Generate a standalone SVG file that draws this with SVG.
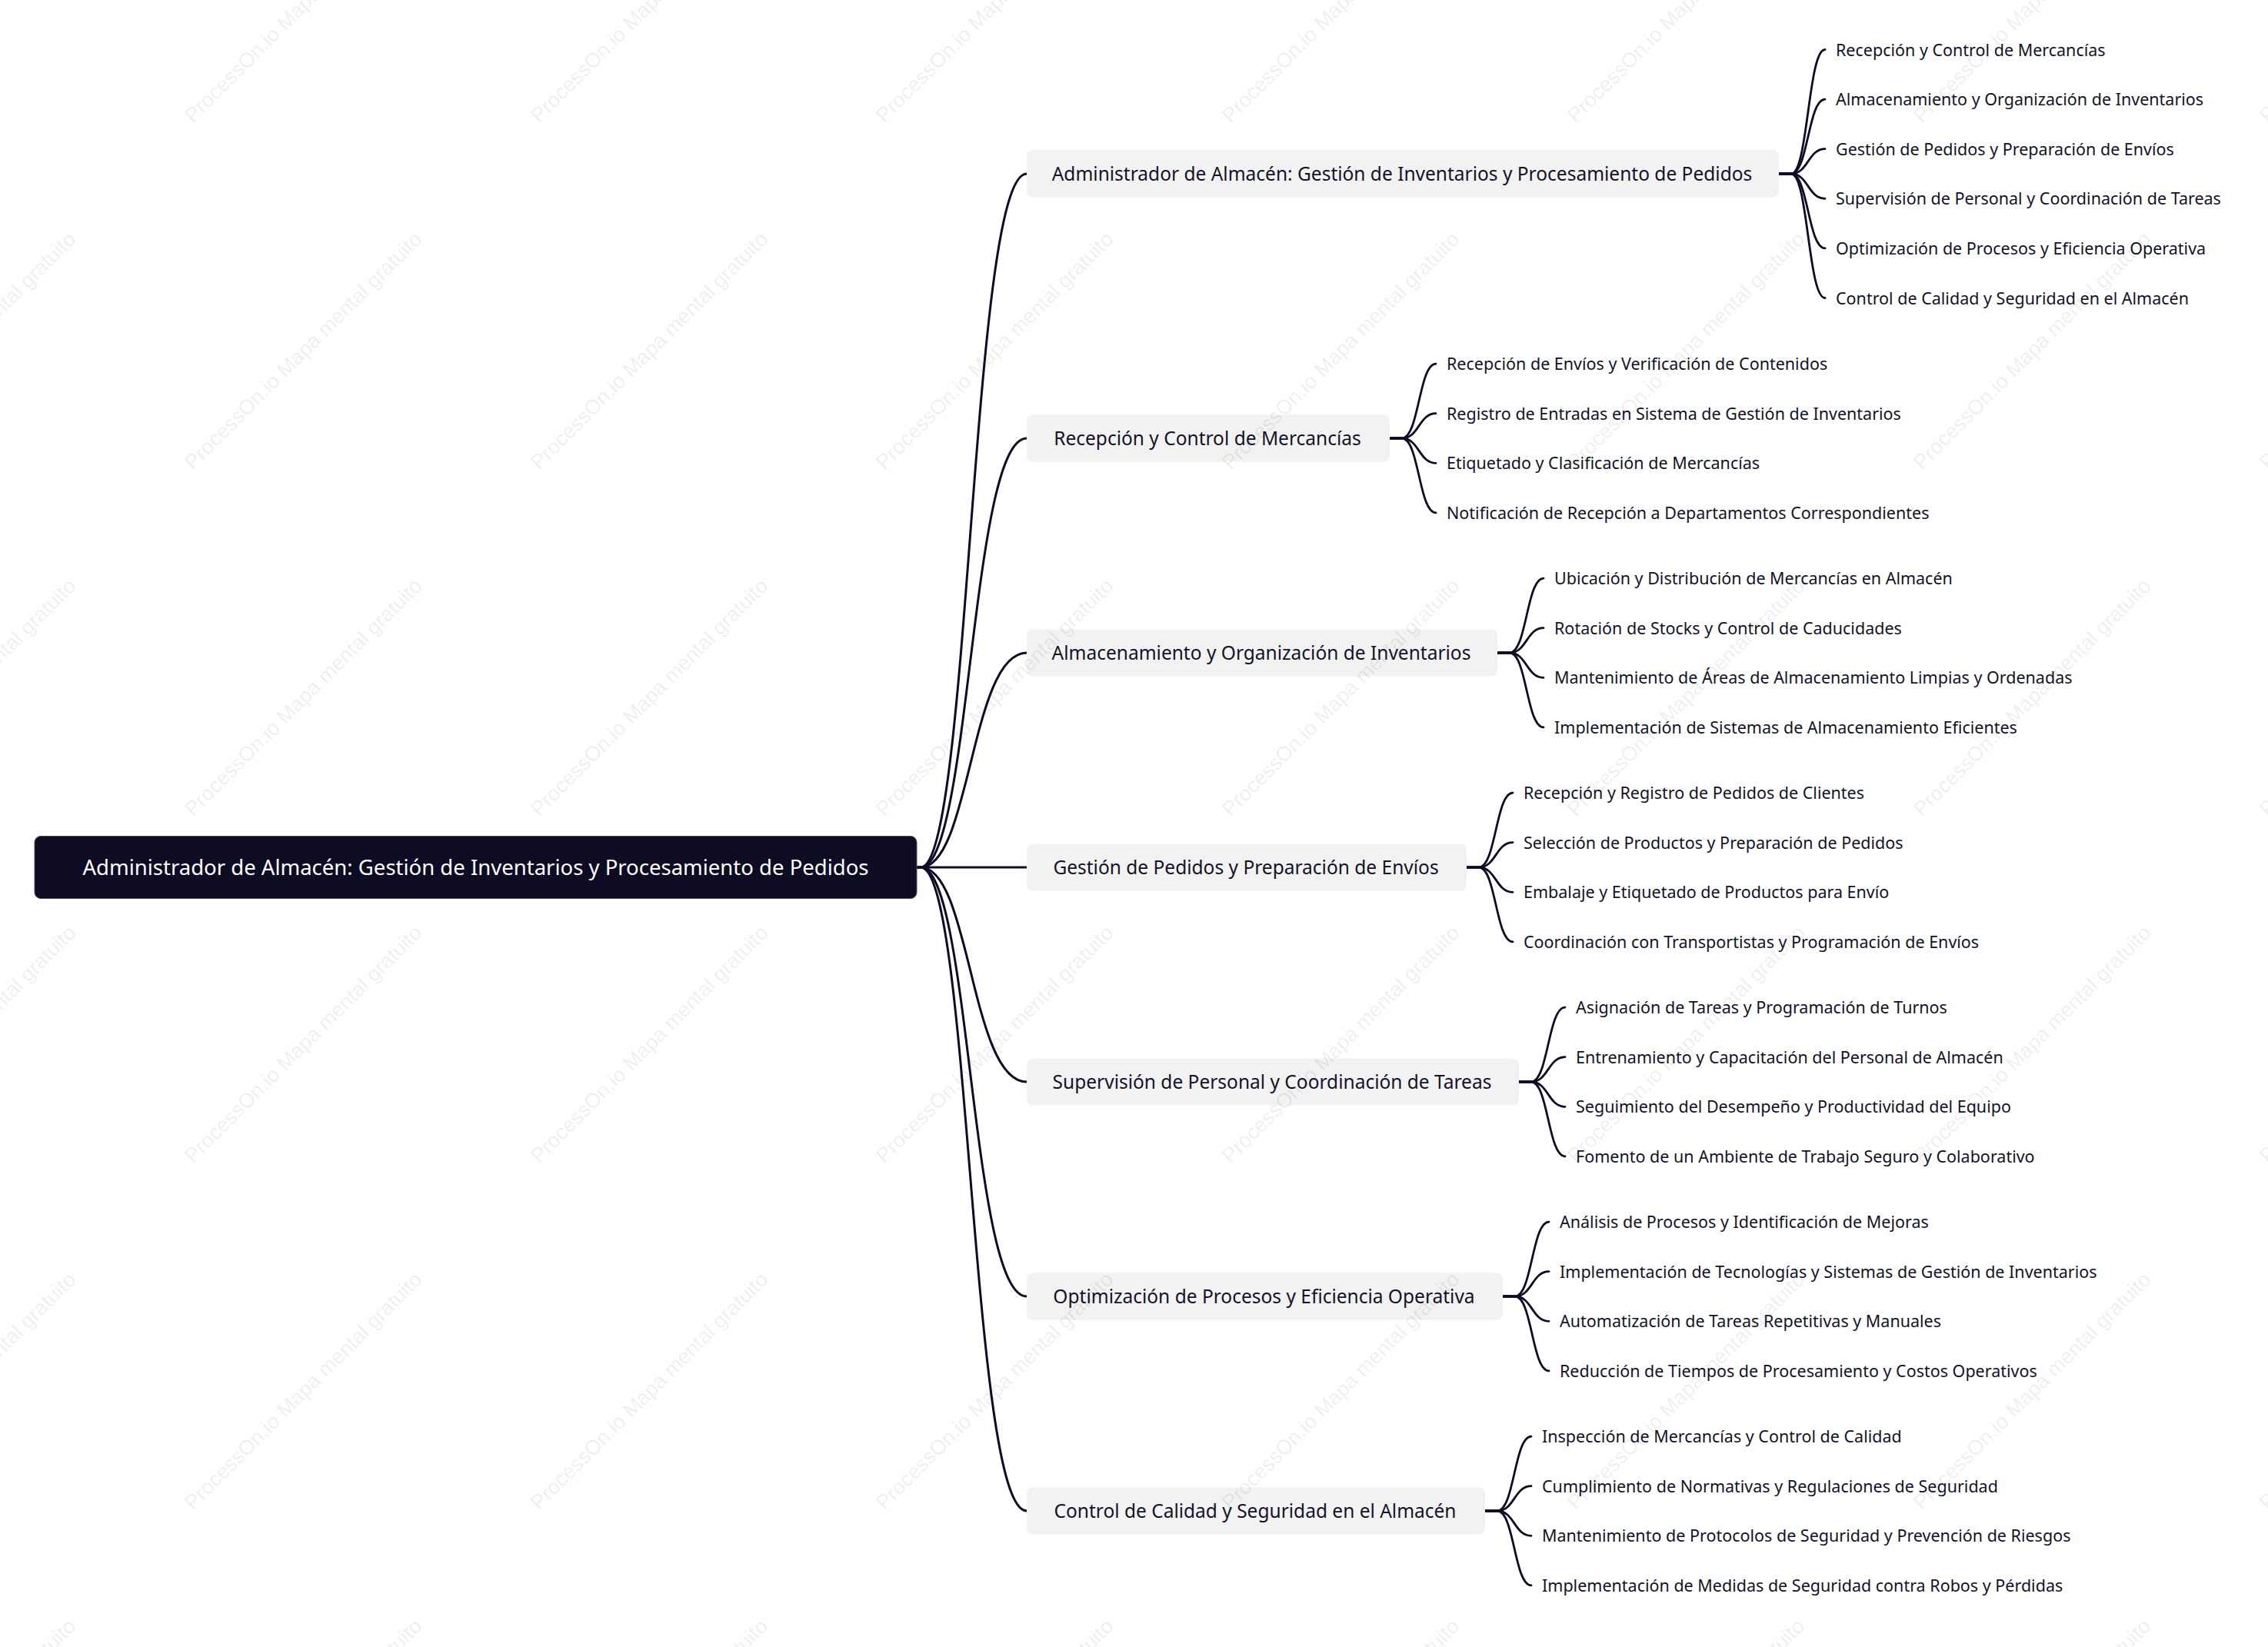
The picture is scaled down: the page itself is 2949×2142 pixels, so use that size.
<svg xmlns="http://www.w3.org/2000/svg" xmlns:xlink="http://www.w3.org/1999/xlink" width="2949" height="2142" viewBox="0 0 2949 2142">
<style>
.bg{fill:#ffffff}
.root rect{fill:#0e0c24;stroke:#4a4a5c;stroke-width:1}
.root text{fill:#ffffff;font-family:"Noto Sans","Open Sans","Liberation Sans",sans-serif;font-size:27.5px;text-anchor:middle}
.l1 rect{fill:#f2f2f2}
.l1 text{fill:#14122a;font-family:"Noto Sans","Open Sans","Liberation Sans",sans-serif;font-size:24.5px;text-anchor:middle}
.l2 text{fill:#14122a;font-family:"Noto Sans","Open Sans","Liberation Sans",sans-serif;font-size:21.5px}
.c0 path{fill:none;stroke:#0e0c24;stroke-width:3;stroke-linecap:round}
.c1 path{fill:none;stroke:#0e0c24;stroke-width:2.8;stroke-linecap:round}
.wm{fill:#000000;fill-opacity:0.08;font-family:"Liberation Sans",Arial,sans-serif;font-size:27px}
</style>
<defs>
<text id="wmt" class="wm" x="0" y="0">ProcessOn.io Mapa mental gratuito</text>
</defs>
<rect class="bg" x="0" y="0" width="2949" height="2142"/>

<g id="connectors">
<g class="c0">
<path d="M1192 1128 L1197 1128 C1262 1128 1262 226 1335 226"/>
<path d="M1192 1128 L1197 1128 C1262 1128 1262 570 1335 570"/>
<path d="M1192 1128 L1197 1128 C1262 1128 1262 849 1335 849"/>
<path d="M1192 1128 L1335 1128"/>
<path d="M1192 1128 L1197 1128 C1262 1128 1262 1407 1335 1407"/>
<path d="M1192 1128 L1197 1128 C1262 1128 1262 1686 1335 1686"/>
<path d="M1192 1128 L1197 1128 C1262 1128 1262 1965 1335 1965"/>
</g>
<g class="c1">
<path d="M2313 226 L2329 226 C2351 226 2351 64.5 2373 64.5"/>
<path d="M2313 226 L2329 226 C2351 226 2351 129.1 2373 129.1"/>
<path d="M2313 226 L2329 226 C2351 226 2351 193.7 2373 193.7"/>
<path d="M2313 226 L2329 226 C2351 226 2351 258.3 2373 258.3"/>
<path d="M2313 226 L2329 226 C2351 226 2351 322.9 2373 322.9"/>
<path d="M2313 226 L2329 226 C2351 226 2351 387.5 2373 387.5"/>

<path d="M1807 570 L1823 570 C1845 570 1845 473.1 1867 473.1"/>
<path d="M1807 570 L1823 570 C1845 570 1845 537.7 1867 537.7"/>
<path d="M1807 570 L1823 570 C1845 570 1845 602.3 1867 602.3"/>
<path d="M1807 570 L1823 570 C1845 570 1845 666.9 1867 666.9"/>

<path d="M1947 849 L1963 849 C1985 849 1985 752.1 2007 752.1"/>
<path d="M1947 849 L1963 849 C1985 849 1985 816.7 2007 816.7"/>
<path d="M1947 849 L1963 849 C1985 849 1985 881.3 2007 881.3"/>
<path d="M1947 849 L1963 849 C1985 849 1985 945.9 2007 945.9"/>

<path d="M1907 1128 L1923 1128 C1945 1128 1945 1031.1 1967 1031.1"/>
<path d="M1907 1128 L1923 1128 C1945 1128 1945 1095.7 1967 1095.7"/>
<path d="M1907 1128 L1923 1128 C1945 1128 1945 1160.3 1967 1160.3"/>
<path d="M1907 1128 L1923 1128 C1945 1128 1945 1224.9 1967 1224.9"/>

<path d="M1975 1407 L1991 1407 C2013 1407 2013 1310.1 2035 1310.1"/>
<path d="M1975 1407 L1991 1407 C2013 1407 2013 1374.7 2035 1374.7"/>
<path d="M1975 1407 L1991 1407 C2013 1407 2013 1439.3 2035 1439.3"/>
<path d="M1975 1407 L1991 1407 C2013 1407 2013 1503.9 2035 1503.9"/>

<path d="M1954 1686 L1970 1686 C1992 1686 1992 1589.1 2014 1589.1"/>
<path d="M1954 1686 L1970 1686 C1992 1686 1992 1653.7 2014 1653.7"/>
<path d="M1954 1686 L1970 1686 C1992 1686 1992 1718.3 2014 1718.3"/>
<path d="M1954 1686 L1970 1686 C1992 1686 1992 1782.9 2014 1782.9"/>

<path d="M1931 1965 L1947 1965 C1969 1965 1969 1868.1 1991 1868.1"/>
<path d="M1931 1965 L1947 1965 C1969 1965 1969 1932.7 1991 1932.7"/>
<path d="M1931 1965 L1947 1965 C1969 1965 1969 1997.3 1991 1997.3"/>
<path d="M1931 1965 L1947 1965 C1969 1965 1969 2061.9 1991 2061.9"/>
</g>
</g>

<g id="root" class="root">
<rect x="45" y="1087.5" width="1147" height="81" rx="8"/>
<text x="618.5" y="1138">Administrador de Almacén: Gestión de Inventarios y Procesamiento de Pedidos</text>
</g>

<g id="n1" class="l1"><rect x="1335" y="195.5" width="978" height="61" rx="8"/><text x="1823" y="235">Administrador de Almacén: Gestión de Inventarios y Procesamiento de Pedidos</text></g>
<g id="n2" class="l1"><rect x="1335" y="539.5" width="472" height="61" rx="8"/><text x="1570" y="579">Recepción y Control de Mercancías</text></g>
<g id="n3" class="l1"><rect x="1335" y="818.5" width="612" height="61" rx="8"/><text x="1640" y="858">Almacenamiento y Organización de Inventarios</text></g>
<g id="n4" class="l1"><rect x="1335" y="1097.5" width="572" height="61" rx="8"/><text x="1620" y="1137">Gestión de Pedidos y Preparación de Envíos</text></g>
<g id="n5" class="l1"><rect x="1335" y="1376.5" width="640" height="61" rx="8"/><text x="1654" y="1416">Supervisión de Personal y Coordinación de Tareas</text></g>
<g id="n6" class="l1"><rect x="1335" y="1655.5" width="619" height="61" rx="8"/><text x="1643.5" y="1695">Optimización de Procesos y Eficiencia Operativa</text></g>
<g id="n7" class="l1"><rect x="1335" y="1934.5" width="596" height="61" rx="8"/><text x="1632" y="1974">Control de Calidad y Seguridad en el Almacén</text></g>

<g id="n1-children" class="l2">
<g id="n1a"><text x="2387" y="72.5">Recepción y Control de Mercancías</text></g>
<g id="n1b"><text x="2387" y="137.1">Almacenamiento y Organización de Inventarios</text></g>
<g id="n1c"><text x="2387" y="201.7">Gestión de Pedidos y Preparación de Envíos</text></g>
<g id="n1d"><text x="2387" y="266.3">Supervisión de Personal y Coordinación de Tareas</text></g>
<g id="n1e"><text x="2387" y="330.9">Optimización de Procesos y Eficiencia Operativa</text></g>
<g id="n1f"><text x="2387" y="395.5">Control de Calidad y Seguridad en el Almacén</text></g>
</g>
<g id="n2-children" class="l2">
<g id="n2a"><text x="1881" y="481.1">Recepción de Envíos y Verificación de Contenidos</text></g>
<g id="n2b"><text x="1881" y="545.7">Registro de Entradas en Sistema de Gestión de Inventarios</text></g>
<g id="n2c"><text x="1881" y="610.3">Etiquetado y Clasificación de Mercancías</text></g>
<g id="n2d"><text x="1881" y="674.9">Notificación de Recepción a Departamentos Correspondientes</text></g>
</g>
<g id="n3-children" class="l2">
<g id="n3a"><text x="2021" y="760.1">Ubicación y Distribución de Mercancías en Almacén</text></g>
<g id="n3b"><text x="2021" y="824.7">Rotación de Stocks y Control de Caducidades</text></g>
<g id="n3c"><text x="2021" y="889.3">Mantenimiento de Áreas de Almacenamiento Limpias y Ordenadas</text></g>
<g id="n3d"><text x="2021" y="953.9">Implementación de Sistemas de Almacenamiento Eficientes</text></g>
</g>
<g id="n4-children" class="l2">
<g id="n4a"><text x="1981" y="1039.1">Recepción y Registro de Pedidos de Clientes</text></g>
<g id="n4b"><text x="1981" y="1103.7">Selección de Productos y Preparación de Pedidos</text></g>
<g id="n4c"><text x="1981" y="1168.3">Embalaje y Etiquetado de Productos para Envío</text></g>
<g id="n4d"><text x="1981" y="1232.9">Coordinación con Transportistas y Programación de Envíos</text></g>
</g>
<g id="n5-children" class="l2">
<g id="n5a"><text x="2049" y="1318.1">Asignación de Tareas y Programación de Turnos</text></g>
<g id="n5b"><text x="2049" y="1382.7">Entrenamiento y Capacitación del Personal de Almacén</text></g>
<g id="n5c"><text x="2049" y="1447.3">Seguimiento del Desempeño y Productividad del Equipo</text></g>
<g id="n5d"><text x="2049" y="1511.9">Fomento de un Ambiente de Trabajo Seguro y Colaborativo</text></g>
</g>
<g id="n6-children" class="l2">
<g id="n6a"><text x="2028" y="1597.1">Análisis de Procesos y Identificación de Mejoras</text></g>
<g id="n6b"><text x="2028" y="1661.7">Implementación de Tecnologías y Sistemas de Gestión de Inventarios</text></g>
<g id="n6c"><text x="2028" y="1726.3">Automatización de Tareas Repetitivas y Manuales</text></g>
<g id="n6d"><text x="2028" y="1790.9">Reducción de Tiempos de Procesamiento y Costos Operativos</text></g>
</g>
<g id="n7-children" class="l2">
<g id="n7a"><text x="2005" y="1876.1">Inspección de Mercancías y Control de Calidad</text></g>
<g id="n7b"><text x="2005" y="1940.7">Cumplimiento de Normativas y Regulaciones de Seguridad</text></g>
<g id="n7c"><text x="2005" y="2005.3">Mantenimiento de Protocolos de Seguridad y Prevención de Riesgos</text></g>
<g id="n7d"><text x="2005" y="2069.9">Implementación de Medidas de Seguridad contra Robos y Pérdidas</text></g>
</g>

<g id="watermark">
<use xlink:href="#wmt" transform="translate(-199 161) rotate(-45)"/>
<use xlink:href="#wmt" transform="translate(251 161) rotate(-45)"/>
<use xlink:href="#wmt" transform="translate(701 161) rotate(-45)"/>
<use xlink:href="#wmt" transform="translate(1150 161) rotate(-45)"/>
<use xlink:href="#wmt" transform="translate(1600 161) rotate(-45)"/>
<use xlink:href="#wmt" transform="translate(2049 161) rotate(-45)"/>
<use xlink:href="#wmt" transform="translate(2499 161) rotate(-45)"/>
<use xlink:href="#wmt" transform="translate(2949 161) rotate(-45)"/>
<use xlink:href="#wmt" transform="translate(-199 612) rotate(-45)"/>
<use xlink:href="#wmt" transform="translate(251 612) rotate(-45)"/>
<use xlink:href="#wmt" transform="translate(701 612) rotate(-45)"/>
<use xlink:href="#wmt" transform="translate(1150 612) rotate(-45)"/>
<use xlink:href="#wmt" transform="translate(1600 612) rotate(-45)"/>
<use xlink:href="#wmt" transform="translate(2049 612) rotate(-45)"/>
<use xlink:href="#wmt" transform="translate(2499 612) rotate(-45)"/>
<use xlink:href="#wmt" transform="translate(2949 612) rotate(-45)"/>
<use xlink:href="#wmt" transform="translate(-199 1063) rotate(-45)"/>
<use xlink:href="#wmt" transform="translate(251 1063) rotate(-45)"/>
<use xlink:href="#wmt" transform="translate(701 1063) rotate(-45)"/>
<use xlink:href="#wmt" transform="translate(1150 1063) rotate(-45)"/>
<use xlink:href="#wmt" transform="translate(1600 1063) rotate(-45)"/>
<use xlink:href="#wmt" transform="translate(2049 1063) rotate(-45)"/>
<use xlink:href="#wmt" transform="translate(2499 1063) rotate(-45)"/>
<use xlink:href="#wmt" transform="translate(2949 1063) rotate(-45)"/>
<use xlink:href="#wmt" transform="translate(-199 1514) rotate(-45)"/>
<use xlink:href="#wmt" transform="translate(251 1514) rotate(-45)"/>
<use xlink:href="#wmt" transform="translate(701 1514) rotate(-45)"/>
<use xlink:href="#wmt" transform="translate(1150 1514) rotate(-45)"/>
<use xlink:href="#wmt" transform="translate(1600 1514) rotate(-45)"/>
<use xlink:href="#wmt" transform="translate(2049 1514) rotate(-45)"/>
<use xlink:href="#wmt" transform="translate(2499 1514) rotate(-45)"/>
<use xlink:href="#wmt" transform="translate(2949 1514) rotate(-45)"/>
<use xlink:href="#wmt" transform="translate(-199 1965) rotate(-45)"/>
<use xlink:href="#wmt" transform="translate(251 1965) rotate(-45)"/>
<use xlink:href="#wmt" transform="translate(701 1965) rotate(-45)"/>
<use xlink:href="#wmt" transform="translate(1150 1965) rotate(-45)"/>
<use xlink:href="#wmt" transform="translate(1600 1965) rotate(-45)"/>
<use xlink:href="#wmt" transform="translate(2049 1965) rotate(-45)"/>
<use xlink:href="#wmt" transform="translate(2499 1965) rotate(-45)"/>
<use xlink:href="#wmt" transform="translate(2949 1965) rotate(-45)"/>
<use xlink:href="#wmt" transform="translate(-199 2416) rotate(-45)"/>
<use xlink:href="#wmt" transform="translate(251 2416) rotate(-45)"/>
<use xlink:href="#wmt" transform="translate(701 2416) rotate(-45)"/>
<use xlink:href="#wmt" transform="translate(1150 2416) rotate(-45)"/>
<use xlink:href="#wmt" transform="translate(1600 2416) rotate(-45)"/>
<use xlink:href="#wmt" transform="translate(2049 2416) rotate(-45)"/>
<use xlink:href="#wmt" transform="translate(2499 2416) rotate(-45)"/>
<use xlink:href="#wmt" transform="translate(2949 2416) rotate(-45)"/>
</g>
</svg>
